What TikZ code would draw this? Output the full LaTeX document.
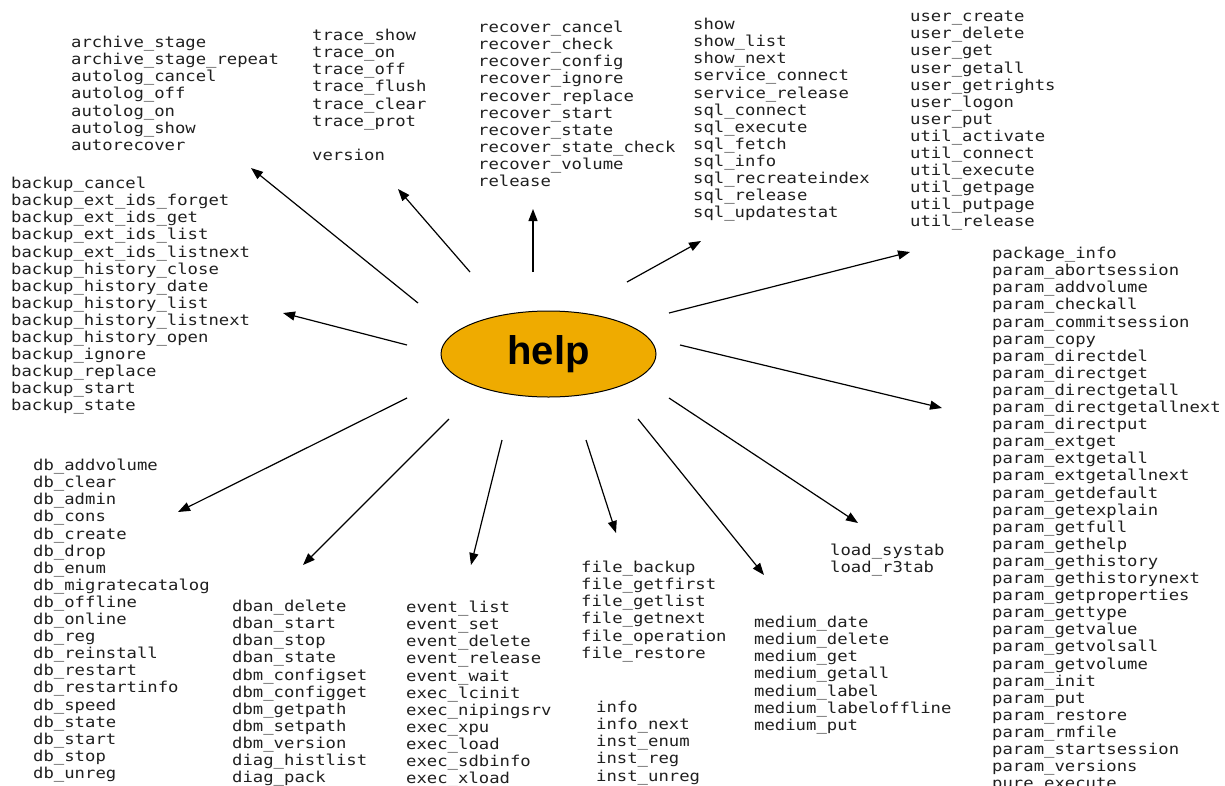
\documentclass[tikz,border=0pt]{standalone}
\usepackage{fontspec}
\setmainfont{Liberation Sans}
\newfontfamily\cmdfont[FakeStretch=1.15]{DejaVu Sans Mono}
\usetikzlibrary{arrows.meta,shapes.geometric}
\definecolor{helpgold}{RGB}{239,171,0}
\tikzset{
  cmds/.style = {anchor=north west, align=left, inner sep=0pt, text=black!88,
    font=\fontsize{15}{17.1}\cmdfont},
  link/.style = {-{Triangle[length=12pt,width=9pt]}, line width=1.2pt},
}
\begin{document}
\begin{tikzpicture}[x=1pt, y=-1pt]
  \useasboundingbox (0,0) rectangle (1225,785);
  % centre
  \node[ellipse, draw, line width=1pt, fill=helpgold, minimum width=215pt, minimum height=86pt,
    inner sep=0pt, font=\fontsize{40}{40}\selectfont\bfseries] (help) at (548.5,354) {help};
  % command lists
  \node[cmds] (archive) at (71,36) {archive\_stage\\archive\_stage\_repeat\\autolog\_cancel\\autolog\_off\\autolog\_on\\autolog\_show\\autorecover};
  \node[cmds] (trace) at (312,29) {trace\_show\\trace\_on\\trace\_off\\trace\_flush\\trace\_clear\\trace\_prot\\[17.1pt]version};
  \node[cmds] (recover) at (478,21) {recover\_cancel\\recover\_check\\recover\_config\\recover\_ignore\\recover\_replace\\recover\_start\\recover\_state\\recover\_state\_check\\recover\_volume\\release};
  \node[cmds] (show) at (693,18) {show\\show\_list\\show\_next\\service\_connect\\service\_release\\sql\_connect\\sql\_execute\\sql\_fetch\\sql\_info\\sql\_recreateindex\\sql\_release\\sql\_updatestat};
  \node[cmds] (user) at (910,11) {user\_create\\user\_delete\\user\_get\\user\_getall\\user\_getrights\\user\_logon\\user\_put\\util\_activate\\util\_connect\\util\_execute\\util\_getpage\\util\_putpage\\util\_release};
  \node[cmds] (param) at (992,247) {package\_info\\param\_abortsession\\param\_addvolume\\param\_checkall\\param\_commitsession\\param\_copy\\param\_directdel\\param\_directget\\param\_directgetall\\param\_directgetallnext\\param\_directput\\param\_extget\\param\_extgetall\\param\_extgetallnext\\param\_getdefault\\param\_getexplain\\param\_getfull\\param\_gethelp\\param\_gethistory\\param\_gethistorynext\\param\_getproperties\\param\_gettype\\param\_getvalue\\param\_getvolsall\\param\_getvolume\\param\_init\\param\_put\\param\_restore\\param\_rmfile\\param\_startsession\\param\_versions\\pure\_execute};
  \node[cmds] (backup) at (11,177) {backup\_cancel\\backup\_ext\_ids\_forget\\backup\_ext\_ids\_get\\backup\_ext\_ids\_list\\backup\_ext\_ids\_listnext\\backup\_history\_close\\backup\_history\_date\\backup\_history\_list\\backup\_history\_listnext\\backup\_history\_open\\backup\_ignore\\backup\_replace\\backup\_start\\backup\_state};
  \node[cmds] (db) at (33,459) {db\_addvolume\\db\_clear\\db\_admin\\db\_cons\\db\_create\\db\_drop\\db\_enum\\db\_migratecatalog\\db\_offline\\db\_online\\db\_reg\\db\_reinstall\\db\_restart\\db\_restartinfo\\db\_speed\\db\_state\\db\_start\\db\_stop\\db\_unreg};
  \node[cmds] (dban) at (232,600) {dban\_delete\\dban\_start\\dban\_stop\\dban\_state\\dbm\_configset\\dbm\_configget\\dbm\_getpath\\dbm\_setpath\\dbm\_version\\diag\_histlist\\diag\_pack};
  \node[cmds] (event) at (406,601) {event\_list\\event\_set\\event\_delete\\event\_release\\event\_wait\\exec\_lcinit\\exec\_nipingsrv\\exec\_xpu\\exec\_load\\exec\_sdbinfo\\exec\_xload};
  \node[cmds] (file) at (581,561) {file\_backup\\file\_getfirst\\file\_getlist\\file\_getnext\\file\_operation\\file\_restore};
  \node[cmds] (info) at (596,701) {info\\info\_next\\inst\_enum\\inst\_reg\\inst\_unreg};
  \node[cmds] (medium) at (754,616) {medium\_date\\medium\_delete\\medium\_get\\medium\_getall\\medium\_label\\medium\_labeloffline\\medium\_put};
  \node[cmds] (load) at (830,544) {load\_systab\\load\_r3tab};
  % arrows out of help
  \foreach \name/\sx/\sy/\tx/\ty in {archive/418/303/251/168, trace/470/272/398/189,
      recover/533/272/533/209, show/627/282/701/241, user/669/313/910/252,
      param/680/345/942/408, backup/407/345/283/313, db/407/398/178/512,
      dban/449/419/303/565, event/502/440/471/565, file/586/440/616/533,
      medium/638/419/764/575, load/669/398/858/523} {
    \coordinate (\name-s) at (\sx,\sy);
    \coordinate (\name-t) at (\tx,\ty);
    \draw[link] (\name-s) -- (\name-t);
  }
\end{tikzpicture}
\end{document}
